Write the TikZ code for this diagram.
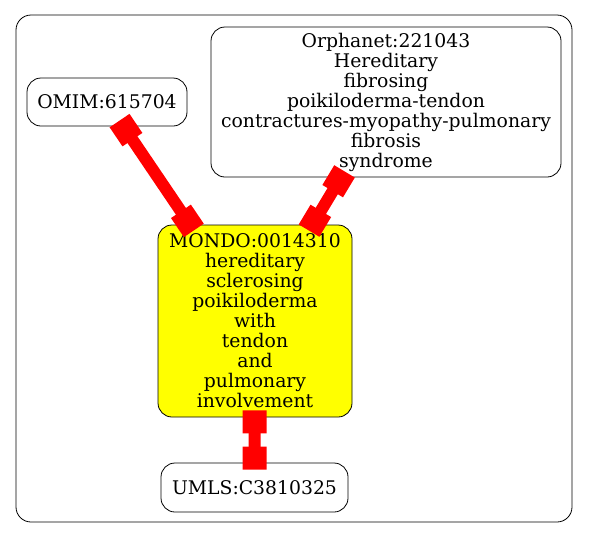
\documentclass[tikz,border=0pt]{standalone}
\usepackage{fontspec}
\setmainfont{DejaVu Serif}
\usepackage{tikz}
\usetikzlibrary{arrows.meta}
\definecolor{mondoyellow}{RGB}{255,255,0}

\begin{document}
\begin{tikzpicture}[x=1pt, y=-1pt,
    term/.style={rectangle, draw, line width=0.8pt, rounded corners=14pt, align=center, inner sep=0pt, font=\fontsize{18.8}{20}\selectfont},
    link/.style={draw=red, line width=12pt, shorten <=-7pt, shorten >=-7pt, {Square[length=23pt,width=24pt]}-{Square[length=23pt,width=24pt]}}
]
\useasboundingbox (0,0) rectangle (589,539);
% Cluster
\draw[rounded corners=15pt, line width=0.8pt] (16,15) rectangle (572,522);

% Nodes
\node[term, minimum width=160pt, minimum height=48pt] (omim) at (107,102) {OMIM:615704};
\node[term, minimum width=350pt, minimum height=150pt] (orpha) at (386,102) {Orphanet:221043\\Hereditary\\fibrosing\\poikiloderma-tendon\\contractures-myopathy-pulmonary\\fibrosis\\syndrome};
\node[term, fill=mondoyellow, minimum width=194pt, minimum height=192pt] (mondo) at (255,321) {MONDO:0014310\\hereditary\\sclerosing\\poikiloderma\\with\\tendon\\and\\pulmonary\\involvement};
\node[term, minimum width=187pt, minimum height=49pt] (umls) at (254.5,487.5) {UMLS:C3810325};

% Edges
\draw[link] (omim) -- (mondo);
\draw[link] (orpha) -- (mondo);
\draw[link] (mondo) -- (umls);
\end{tikzpicture}
\end{document}
